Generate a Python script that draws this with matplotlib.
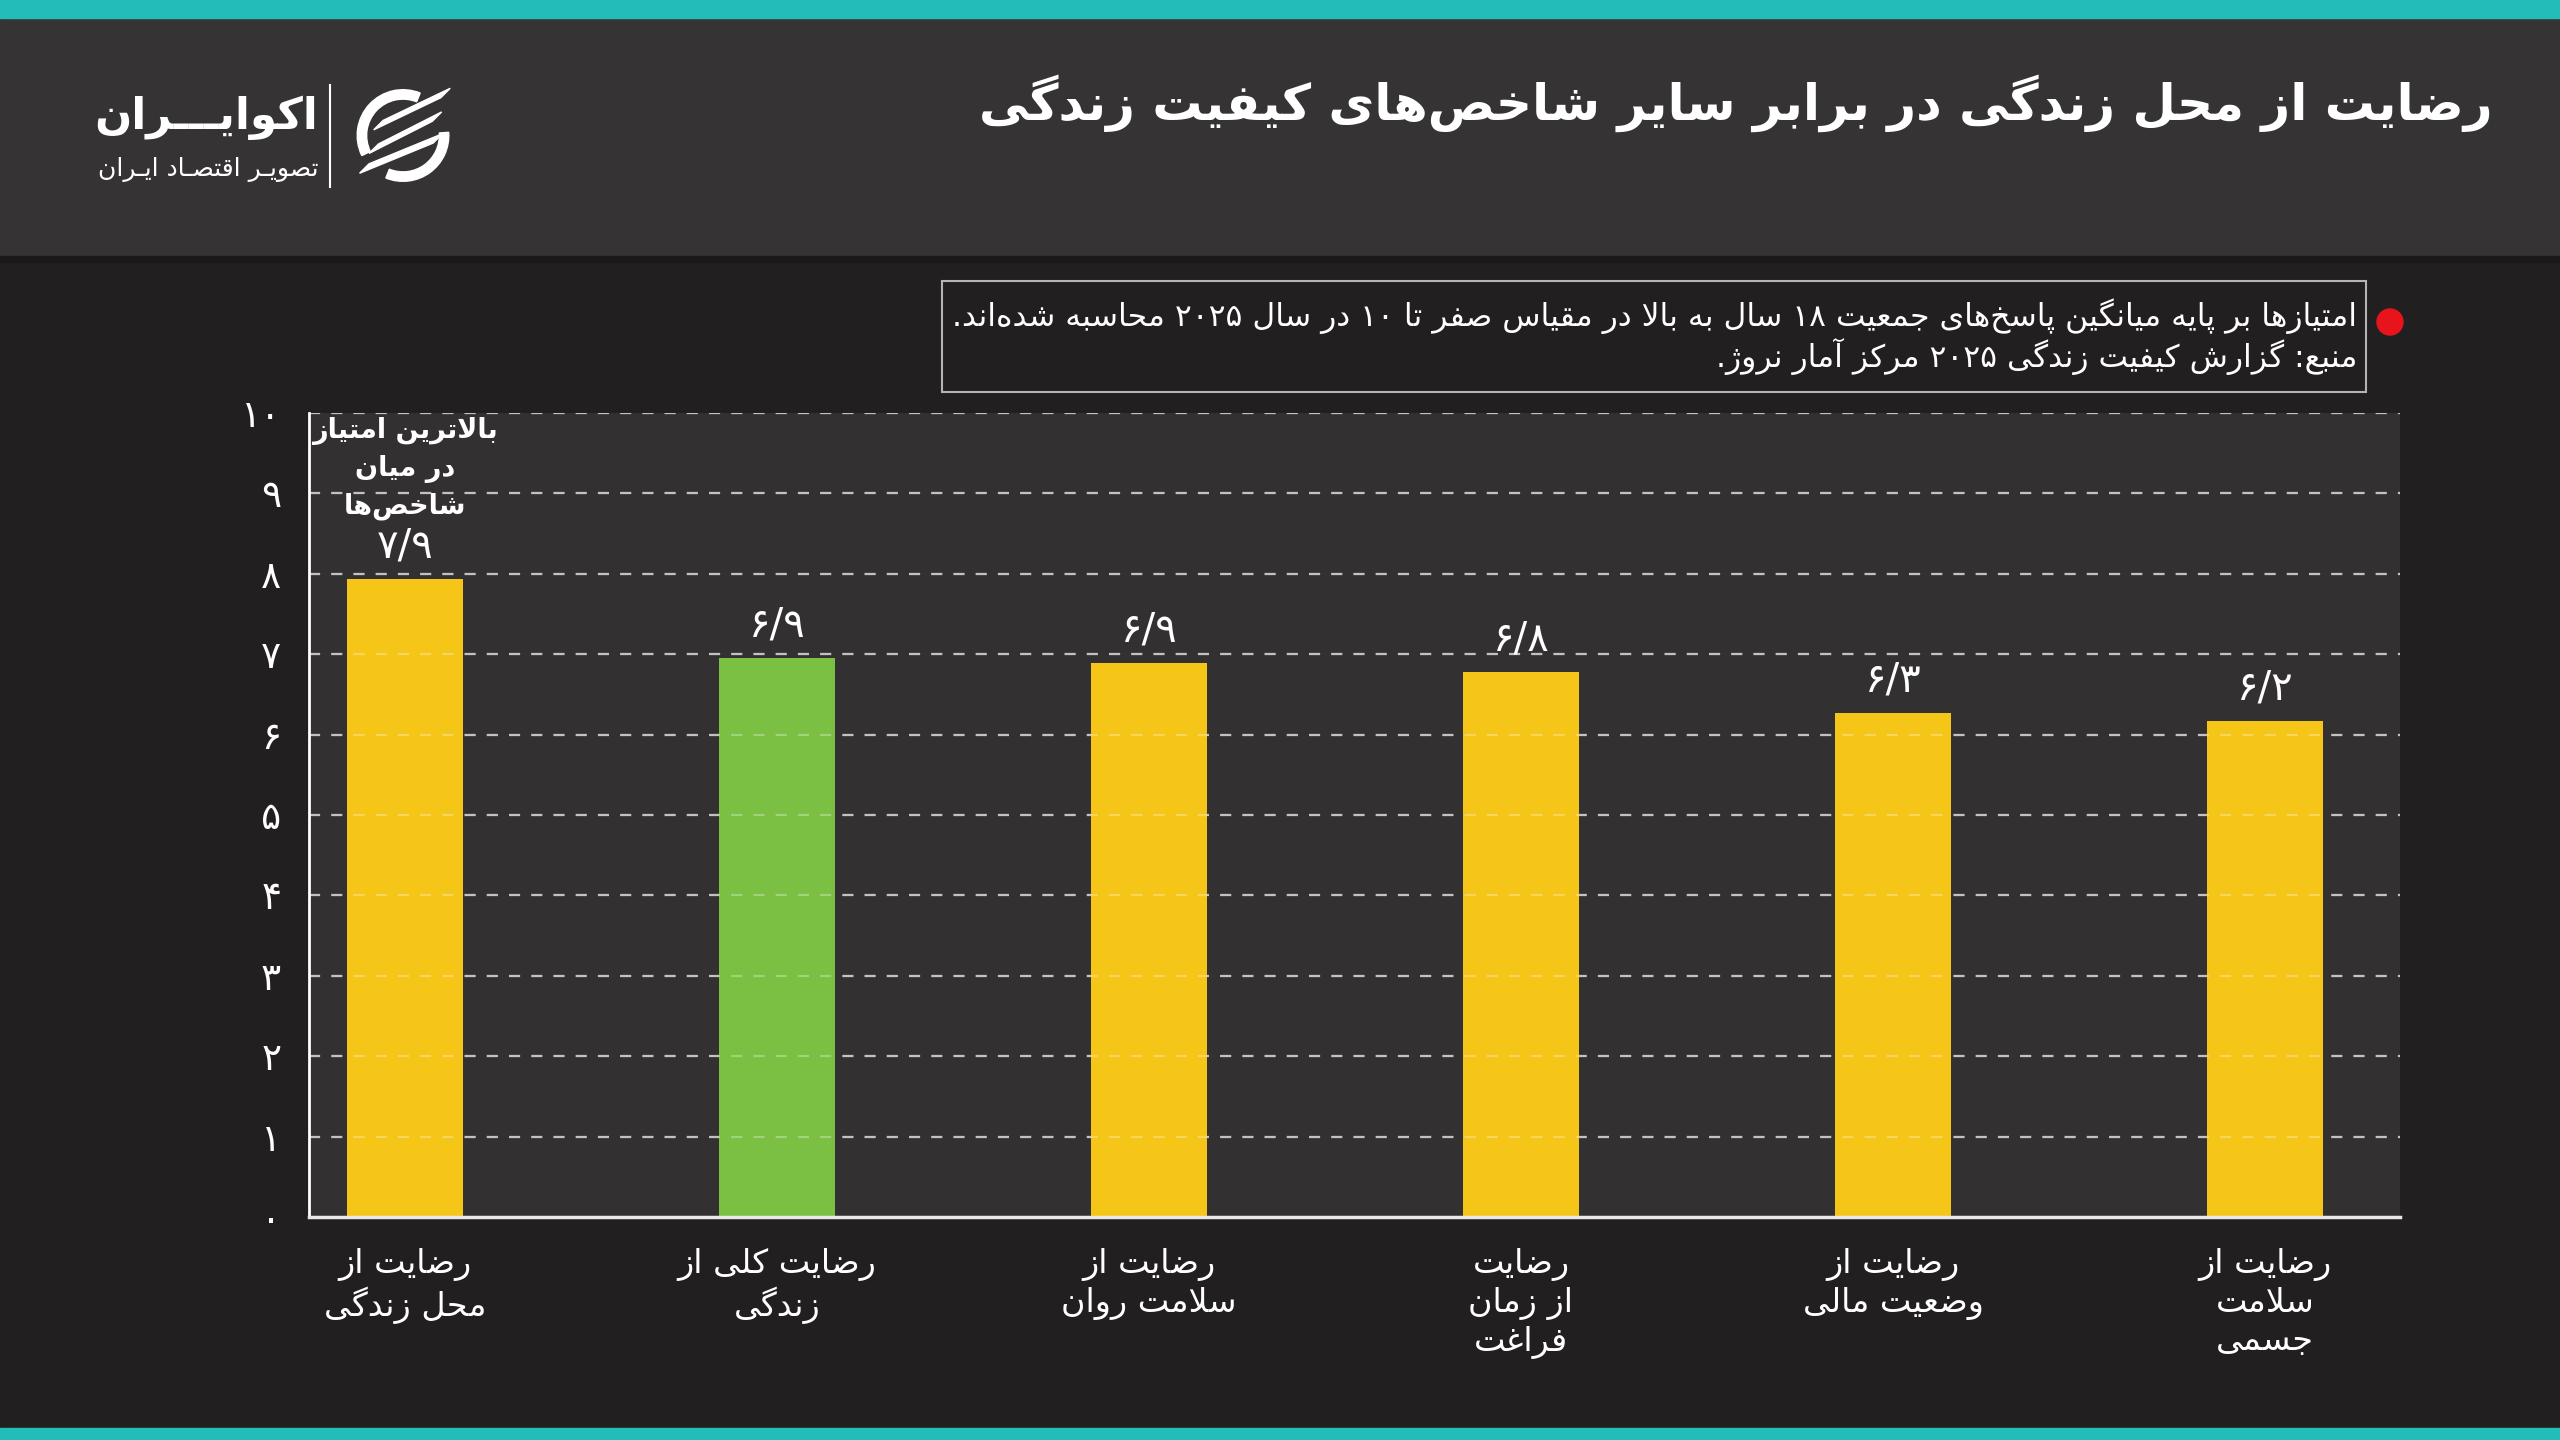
import re
import matplotlib
matplotlib.use("Agg")
from matplotlib import pyplot as plt
from matplotlib import patches

# ---- data ----
categories = ["رضایت از\nمحل زندگی", "رضایت کلی از\nزندگی", "رضایت از\nسلامت روان",
              "رضایت\nاز زمان\nفراغت", "رضایت از\nوضعیت مالی", "رضایت از\nسلامت\nجسمی"]
scores = [7.93, 6.95, 6.89, 6.78, 6.27, 6.17]
score_labels = ["۷/۹", "۶/۹", "۶/۹", "۶/۸", "۶/۳", "۶/۲"]
bar_colors = ["#f5c518", "#7bc043", "#f5c518", "#f5c518", "#f5c518", "#f5c518"]
yticks = list(range(0, 11))
ytick_labels = ["۰", "۱", "۲", "۳", "۴", "۵", "۶", "۷", "۸", "۹", "۱۰"]

title = "رضایت از محل زندگی در برابر سایر شاخص‌های کیفیت زندگی"
note_lines = ["امتیازها بر پایه میانگین پاسخ‌های جمعیت ۱۸ سال به بالا در مقیاس صفر تا ۱۰ در سال ۲۰۲۵ محاسبه شده‌اند.",
              "منبع: گزارش کیفیت زندگی ۲۰۲۵ مرکز آمار نروژ."]
top_note = "بالاترین امتیاز\nدر میان\nشاخص‌ها"
brand = "اکوایـــران"
brand_sub = "تصویـر اقتصـاد ایـران"

# ---- minimal arabic/persian shaping (matplotlib has no text shaping) ----
DUAL = {'ئ': 0xFE89, 'ب': 0xFE8F, 'ت': 0xFE95, 'ث': 0xFE99, 'ج': 0xFE9D, 'ح': 0xFEA1,
        'خ': 0xFEA5, 'س': 0xFEB1, 'ش': 0xFEB5, 'ص': 0xFEB9, 'ض': 0xFEBD, 'ط': 0xFEC1,
        'ظ': 0xFEC5, 'ع': 0xFEC9, 'غ': 0xFECD, 'ف': 0xFED1, 'ق': 0xFED5, 'ك': 0xFED9,
        'ل': 0xFEDD, 'م': 0xFEE1, 'ن': 0xFEE5, 'ه': 0xFEE9, 'ي': 0xFEF1,
        'پ': 0xFB56, 'چ': 0xFB7A, 'ک': 0xFB8E, 'گ': 0xFB92, 'ی': 0xFBFC}
RIGHT = {'آ': 0xFE81, 'أ': 0xFE83, 'ؤ': 0xFE85, 'إ': 0xFE87, 'ا': 0xFE8D, 'ة': 0xFE93,
         'د': 0xFEA9, 'ذ': 0xFEAB, 'ر': 0xFEAD, 'ز': 0xFEAF, 'و': 0xFEED, 'ى': 0xFEEF,
         'ژ': 0xFB8A}
LAM_ALEF = {'آ': 0xFEF5, 'أ': 0xFEF7, 'إ': 0xFEF9, 'ا': 0xFEFB}
TATWEEL = 'ـ'


def jtype(c):
    if c in DUAL or c == TATWEEL:
        return 'D'
    if c in RIGHT:
        return 'R'
    return 'U'


def shape_line(s):
    out = []
    i, n = 0, len(s)
    while i < n:
        c = s[i]
        t = jtype(c)
        if t == 'U':
            if c != '\u200c':
                out.append(c)
            i += 1
            continue
        jp = i > 0 and jtype(s[i - 1]) == 'D'
        nxt = s[i + 1] if i + 1 < n else ''
        if c == 'ل' and nxt in LAM_ALEF:
            out.append(chr(LAM_ALEF[nxt] + (1 if jp else 0)))
            i += 2
            continue
        if c == TATWEEL:
            out.append(c)
            i += 1
            continue
        jn = t == 'D' and jtype(nxt) in ('D', 'R')
        if t == 'R':
            out.append(chr(RIGHT[c] + (1 if jp else 0)))
        else:
            base = DUAL[c]
            if jp and jn:
                out.append(chr(base + 3))
            elif jn:
                out.append(chr(base + 2))
            elif jp:
                out.append(chr(base + 1))
            else:
                out.append(chr(base))
        i += 1
    shaped = ''.join(out)
    # visual order: reverse, keeping number runs left-to-right
    runs = re.findall(r'[0-9۰-۹]+(?:/[0-9۰-۹]+)*|.', shaped)
    return ''.join(reversed(runs))


def fa(s):
    return '\n'.join(shape_line(line) for line in s.split('\n'))


W, H = 2560, 1440
BG = "#221f20"
HEAD = "#363334"
fig = plt.figure(figsize=(W / 100, H / 100), dpi=100, facecolor=BG)
plt.rcParams['font.family'] = ['DejaVu Sans']


def fx(px):
    return px / W


def fy(py):
    return 1 - py / H


# header band and teal strips
fig.add_artist(patches.Rectangle((0, fy(256)), 1, fy(18) - fy(256), transform=fig.transFigure,
                                 color=HEAD, zorder=0))
fig.add_artist(patches.Rectangle((0, fy(262)), 1, fy(256) - fy(262), transform=fig.transFigure,
                                 color="#1a1819", zorder=0))
fig.add_artist(patches.Rectangle((0, fy(18)), 1, fy(0) - fy(18), transform=fig.transFigure,
                                 color="#22bdb9", zorder=1))
fig.add_artist(patches.Rectangle((0, 0), 1, fy(1428), transform=fig.transFigure,
                                 color="#22bdb9", zorder=1))

fig.text(fx(2493), fy(103), fa(title), ha='right', va='center', color='white',
         fontsize=36, fontweight='bold')

# logo
fig.text(fx(318), fy(118), fa(brand), ha='right', va='center', color='white',
         fontsize=31.5, fontweight='bold')
fig.text(fx(318), fy(170), fa(brand_sub), ha='right', va='center', color='white', fontsize=18)
fig.add_artist(plt.Line2D([fx(330), fx(330)], [fy(85), fy(187)], transform=fig.transFigure,
                          color='white', lw=1.5))
iax = fig.add_axes([fx(352), fy(188), fx(102), fy(83) - fy(188)])
iax.set_xlim(-1.08, 1.08)
iax.set_ylim(-1.08, 1.08)
iax.set_aspect('equal')
iax.axis('off')
iax.add_patch(patches.Wedge((0, 0), 0.97, 68, 206, width=0.2, color='white'))
iax.add_patch(patches.Wedge((0, 0), 0.97, -112, 4, width=0.2, color='white'))
t = 0.2
for xs, ys, xe, ye in [(-0.62, 0.12, 1.0, 1.0), (-0.72, -0.38, 0.82, 0.5), (-0.92, -0.8, 0.84, 0.04)]:
    iax.add_patch(patches.Polygon([(xs, ys), (xs + 0.2, ys + t / 2 + 0.1), (xe, ye),
                                   (xe - 0.2, ye - t / 2 - 0.1)], closed=True, color='white'))

# note box
fig.add_artist(patches.Rectangle((fx(942), fy(392)), fx(2366) - fx(942), fy(281) - fy(392),
                                 transform=fig.transFigure, fill=False, ec="#b4b4b4", lw=1.5))
fig.text(fx(2357), fy(316), fa(note_lines[0]), ha='right', va='center', color='white', fontsize=22.6)
fig.text(fx(2357), fy(356), fa(note_lines[1]), ha='right', va='center', color='white', fontsize=22.6)
fig.add_artist(patches.Ellipse((fx(2390), fy(322)), 26 / W, 26 / H, transform=fig.transFigure,
                               color="#e8141b"))

# chart
ax = fig.add_axes([fx(309), fy(1217), fx(2400) - fx(309), fy(413) - fy(1217)])
ax.set_facecolor("#333031")
x = list(range(len(scores)))
ax.bar(x, scores, width=0.31, color=bar_colors, zorder=2)
for yv in range(1, 11):
    ax.axhline(yv, color="#a8a8a8", lw=1.6, ls=(0, (5, 5)), zorder=1)
    ax.axhline(yv, color="white", lw=1.6, ls=(0, (5, 5)), alpha=0.3, zorder=3)

for xi, v, lab in zip(x, scores, score_labels):
    ax.text(xi, v + 0.16, lab, ha='center', va='bottom', color='white', fontsize=29)
ax.text(0, 9.31, fa(top_note), ha='center', va='center', color='white', fontsize=19.5,
        fontweight='bold', linespacing=1.45)

ax.set_xlim(-0.258, 5.363)
ax.set_ylim(0, 10)
ax.set_yticks(yticks)
ax.set_yticklabels(ytick_labels, fontsize=27, color='white')
ax.set_xticks(x)
ax.set_xticklabels([fa(c) for c in categories], fontsize=24, color='white', linespacing=1.2, va='top')
ax.tick_params(axis='both', length=0)
ax.tick_params(axis='y', pad=20)
ax.tick_params(axis='x', pad=22)
for s in ('top', 'right'):
    ax.spines[s].set_visible(False)
ax.spines['left'].set_color('white')
ax.spines['left'].set_linewidth(2)
ax.spines['bottom'].set_color('#e8e8e8')
ax.spines['bottom'].set_linewidth(2.5)

fig.savefig("out.png", dpi=100, facecolor=BG)
